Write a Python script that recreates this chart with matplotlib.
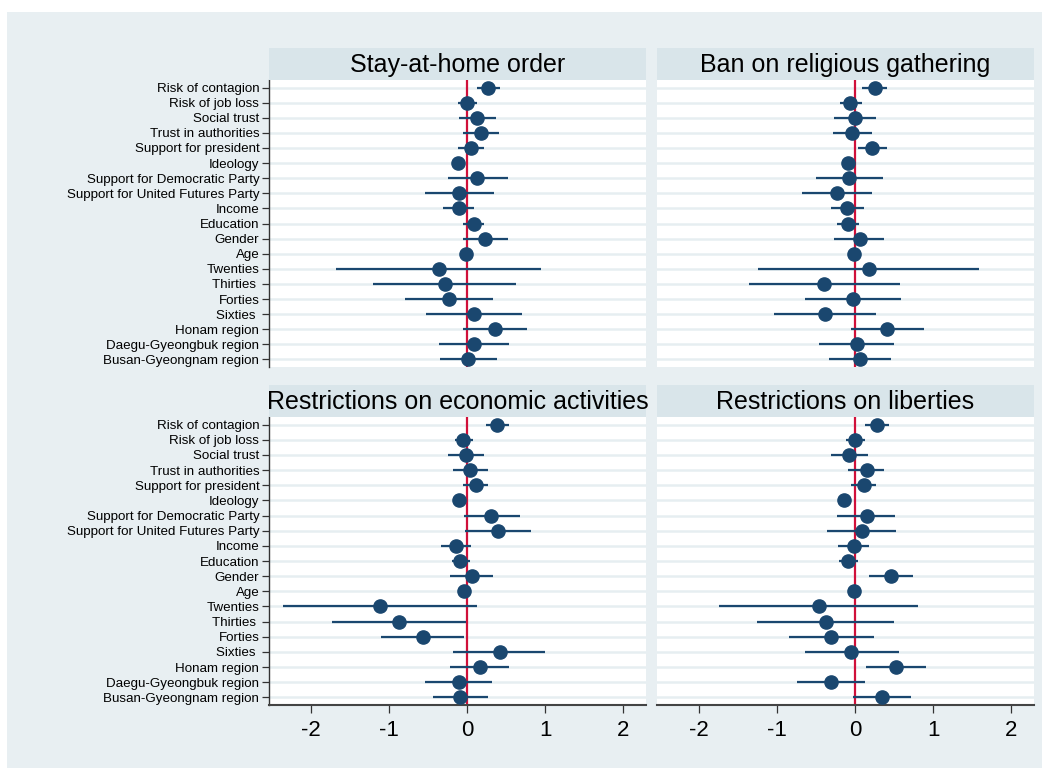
import numpy as np
import matplotlib.pyplot as plt

plt.rcParams['font.family'] = ['Liberation Sans', 'DejaVu Sans']

labels = ["Risk of contagion", "Risk of job loss", "Social trust", "Trust in authorities",
          "Support for president", "Ideology", "Support for Democratic Party",
          "Support for United Futures Party", "Income", "Education", "Gender", "Age",
          "Twenties", "Thirties ", "Forties", "Sixties ", "Honam region",
          "Daegu-Gyeongbuk region", "Busan-Gyeongnam region"]

titles = ["Stay-at-home order", "Ban on religious gathering",
          "Restrictions on economic activities", "Restrictions on liberties"]

# Stay-at-home order
stay_est = [0.265, 0.00, 0.13, 0.18, 0.05, -0.12, 0.13, -0.11, -0.11, 0.08, 0.23, -0.02,
            -0.36, -0.29, -0.24, 0.08, 0.35, 0.09, 0.01]
stay_lo = [0.12, -0.12, -0.11, -0.06, -0.12, -0.15, -0.25, -0.54, -0.31, -0.06, -0.06, -0.04,
           -1.68, -1.21, -0.80, -0.53, -0.06, -0.36, -0.35]
stay_hi = [0.42, 0.13, 0.37, 0.41, 0.22, -0.09, 0.52, 0.34, 0.09, 0.21, 0.52, 0.00,
           0.95, 0.62, 0.33, 0.70, 0.76, 0.54, 0.38]

# Ban on religious gathering
relig_est = [0.25, -0.07, 0.00, -0.04, 0.21, -0.09, -0.08, -0.23, -0.10, -0.09, 0.06, -0.01,
             0.17, -0.40, -0.03, -0.39, 0.41, 0.02, 0.06]
relig_lo = [0.09, -0.20, -0.27, -0.29, 0.03, -0.12, -0.50, -0.68, -0.31, -0.23, -0.27, -0.03,
            -1.24, -1.36, -0.65, -1.04, -0.06, -0.46, -0.34]
relig_hi = [0.41, 0.08, 0.26, 0.22, 0.41, -0.06, 0.36, 0.21, 0.11, 0.05, 0.37, 0.01,
            1.58, 0.57, 0.59, 0.26, 0.88, 0.50, 0.46]

# Restrictions on economic activities
econ_est = [0.38, -0.05, -0.02, 0.04, 0.11, -0.10, 0.31, 0.39, -0.14, -0.09, 0.06, -0.04,
            -1.12, -0.87, -0.57, 0.42, 0.16, -0.11, -0.09]
econ_lo = [0.24, -0.16, -0.25, -0.18, -0.05, -0.13, -0.04, -0.03, -0.33, -0.20, -0.22, -0.06,
           -2.36, -1.73, -1.10, -0.18, -0.22, -0.54, -0.44]
econ_hi = [0.53, 0.07, 0.21, 0.26, 0.27, -0.07, 0.67, 0.82, 0.05, 0.04, 0.33, -0.02,
           0.12, -0.01, -0.04, 1.00, 0.53, 0.32, 0.27]

# Restrictions on liberties
lib_est = [0.28, 0.00, -0.08, 0.15, 0.11, -0.15, 0.15, 0.08, -0.02, -0.09, 0.46, -0.02,
           -0.47, -0.38, -0.31, -0.05, 0.52, -0.31, 0.34]
lib_lo = [0.13, -0.12, -0.31, -0.09, -0.06, -0.18, -0.23, -0.36, -0.22, -0.21, 0.17, -0.04,
          -1.75, -1.26, -0.85, -0.65, 0.14, -0.74, -0.03]
lib_hi = [0.43, 0.12, 0.16, 0.37, 0.27, -0.12, 0.51, 0.52, 0.18, 0.04, 0.74, 0.00,
          0.80, 0.50, 0.24, 0.56, 0.91, 0.13, 0.71]

panels = [(stay_est, stay_lo, stay_hi), (relig_est, relig_lo, relig_hi),
          (econ_est, econ_lo, econ_hi), (lib_est, lib_lo, lib_hi)]

W, H = 1047, 773
navy = '#1a476f'
red = '#d0103a'
grid_col = '#e6eef1'
strip_col = '#d9e5ea'
bg_col = '#e8eff2'

fig = plt.figure(figsize=(W / 100, H / 100), dpi=100, facecolor='white')

# light outer background (graph region)
bg = fig.add_axes([7 / W, 1 - 768 / H, 1035 / W, 756 / H], zorder=-5)
bg.set_facecolor(bg_col)
bg.set_xticks([])
bg.set_yticks([])
for s in bg.spines.values():
    s.set_visible(False)

col_x = [269, 657]
col_w = 377
rows = [(48, 80, 367), (385, 417, 705)]  # strip top, plot top, plot bottom

y = np.arange(1, len(labels) + 1)

for i, (est, lo, hi) in enumerate(panels):
    r, c = divmod(i, 2)
    st, pt, pb = rows[r]
    x0 = col_x[c]
    ax = fig.add_axes([x0 / W, 1 - pb / H, col_w / W, (pb - pt) / H])
    ax.set_facecolor('white')

    # title strip
    sax = fig.add_axes([x0 / W, 1 - pt / H, col_w / W, (pt - st) / H])
    sax.set_facecolor(strip_col)
    sax.set_xticks([])
    sax.set_yticks([])
    for s in sax.spines.values():
        s.set_visible(False)
    sax.text(0.5, 0.47, titles[i], ha='center', va='center', fontsize=18,
             transform=sax.transAxes, clip_on=False)

    for yy in y:
        ax.axhline(yy, color=grid_col, lw=1.8, zorder=1)
    ax.axvline(0, color=red, lw=1.6, zorder=2)
    ax.hlines(y, lo, hi, color=navy, lw=1.6, zorder=3)
    ax.plot(est, y, 'o', color=navy, markersize=9.5, zorder=4)

    ax.set_xlim(-2.54, 2.29)
    ax.set_ylim(19.5, 0.5)

    for s in ['top', 'right']:
        ax.spines[s].set_visible(False)

    if c == 0:
        ax.set_yticks(y)
        ax.set_yticklabels(labels, fontsize=9.6)
        ax.spines['left'].set_color('#333333')
        ax.spines['left'].set_linewidth(1.0)
        ax.tick_params(axis='y', length=5, width=0.9, color='#333333', pad=2)
    else:
        ax.set_yticks([])
        ax.spines['left'].set_visible(False)

    if r == 1:
        ax.set_xticks([-2, -1, 0, 1, 2])
        ax.set_xticklabels(['-2', '-1', '0', '1', '2'], fontsize=16)
        ax.spines['bottom'].set_color('#444444')
        ax.spines['bottom'].set_linewidth(1.5)
        ax.tick_params(axis='x', length=6, width=0.9, color='#333333', pad=5)
    else:
        ax.set_xticks([])
        ax.spines['bottom'].set_visible(False)

fig.savefig('out.png', dpi=100, facecolor='white')
